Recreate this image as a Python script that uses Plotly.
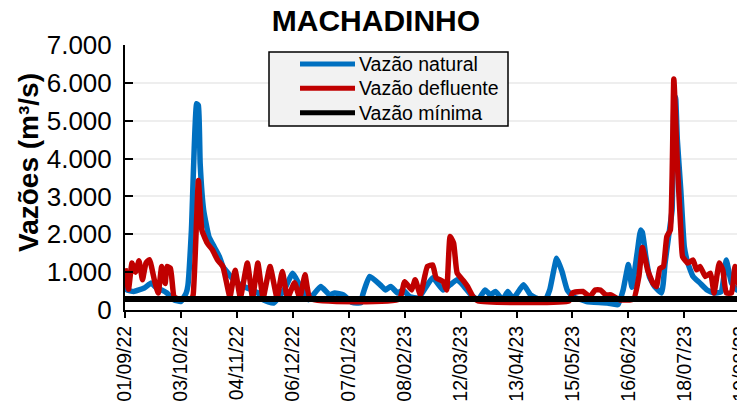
import plotly.graph_objects as go

# vazão natural (m³/s)
datas_natural = [
    "2022-09-01", "2022-09-02", "2022-09-06", "2022-09-12", "2022-09-16", "2022-09-19",
    "2022-09-22", "2022-09-25", "2022-09-29", "2022-10-03", "2022-10-06", "2022-10-07",
    "2022-10-09", "2022-10-12", "2022-10-13", "2022-10-14", "2022-10-16", "2022-10-19",
    "2022-10-22", "2022-10-25", "2022-10-27", "2022-10-30", "2022-11-02", "2022-11-08",
    "2022-11-16", "2022-11-19", "2022-11-25", "2022-12-01", "2022-12-06", "2022-12-10",
    "2022-12-12", "2022-12-15", "2022-12-22", "2022-12-27", "2022-12-30", "2023-01-04",
    "2023-01-09", "2023-01-14", "2023-01-15", "2023-01-19", "2023-01-25", "2023-01-28",
    "2023-01-31", "2023-02-04", "2023-02-07", "2023-02-11", "2023-02-16", "2023-02-24",
    "2023-03-02", "2023-03-06", "2023-03-10", "2023-03-14", "2023-03-18", "2023-03-22",
    "2023-03-26", "2023-03-29", "2023-04-01", "2023-04-05", "2023-04-08", "2023-04-11",
    "2023-04-17", "2023-04-21", "2023-04-24", "2023-04-29", "2023-05-02", "2023-05-06",
    "2023-05-09", "2023-05-12", "2023-05-15", "2023-05-20", "2023-05-23", "2023-06-04",
    "2023-06-10", "2023-06-13", "2023-06-16", "2023-06-18", "2023-06-21", "2023-06-23",
    "2023-06-24", "2023-06-26", "2023-06-28", "2023-07-01", "2023-07-05", "2023-07-07",
    "2023-07-09", "2023-07-11", "2023-07-12", "2023-07-13", "2023-07-14", "2023-07-16",
    "2023-07-18", "2023-07-20", "2023-07-23", "2023-07-27", "2023-07-31", "2023-08-04",
    "2023-08-08", "2023-08-11", "2023-08-14", "2023-08-17", "2023-08-19",
]
vazao_natural = [
    650, 530, 490, 580, 710, 580,
    530, 450, 270, 225, 450, 650,
    2110, 5450, 5400, 3870, 2640, 1940,
    1670, 1410, 1150, 970, 800, 620,
    450, 270, 185, 530, 970, 650,
    530, 270, 620, 400, 450, 400,
    200, 190, 400, 885, 665, 530,
    620, 450, 530, 350, 320, 850,
    530, 665, 800, 620, 400, 270,
    530, 400, 490, 270, 490, 300,
    665, 400, 320, 225, 530, 1370,
    1020, 530, 360, 270, 225, 185,
    140, 530, 1200, 600, 1500, 2110,
    2050, 1410, 885, 620, 450, 1240,
    1940, 2640, 5300, 5620, 4500, 3160,
    1670, 1240, 885, 710, 530, 450,
    480, 1320, 710, 530, 600,
]

# vazão defluente (m³/s)
datas_defluente = [
    "2022-09-01", "2022-09-03", "2022-09-05", "2022-09-07", "2022-09-09", "2022-09-11",
    "2022-09-13", "2022-09-15", "2022-09-18", "2022-09-20", "2022-09-22", "2022-09-24",
    "2022-09-25", "2022-09-27", "2022-09-29", "2022-10-01", "2022-10-09", "2022-10-10",
    "2022-10-13", "2022-10-15", "2022-10-18", "2022-10-21", "2022-10-24", "2022-10-27",
    "2022-10-31", "2022-11-03", "2022-11-06", "2022-11-10", "2022-11-13", "2022-11-16",
    "2022-11-19", "2022-11-23", "2022-11-27", "2022-11-30", "2022-12-03", "2022-12-07",
    "2022-12-10", "2022-12-13", "2022-12-16", "2023-02-05", "2023-02-08", "2023-02-12",
    "2023-02-14", "2023-02-17", "2023-02-21", "2023-02-24", "2023-02-26", "2023-03-02",
    "2023-03-04", "2023-03-06", "2023-03-08", "2023-03-10", "2023-03-14", "2023-03-16",
    "2023-03-19", "2023-03-22", "2023-05-13", "2023-05-15", "2023-05-21", "2023-05-25",
    "2023-05-28", "2023-05-31", "2023-06-03", "2023-06-06", "2023-06-11", "2023-06-19",
    "2023-06-22", "2023-06-24", "2023-06-27", "2023-06-30", "2023-07-02", "2023-07-04",
    "2023-07-06", "2023-07-08", "2023-07-10", "2023-07-12", "2023-07-14", "2023-07-16",
    "2023-07-17", "2023-07-20", "2023-07-23", "2023-07-25", "2023-07-27", "2023-07-30",
    "2023-08-02", "2023-08-04", "2023-08-07", "2023-08-09", "2023-08-11", "2023-08-14",
    "2023-08-16", "2023-08-18", "2023-08-19",
]
vazao_defluente = [
    1100, 550, 1240, 1000, 1300, 800,
    1240, 1330, 750, 450, 1150, 700,
    1150, 1100, 360, 300, 300, 400,
    3420, 2110, 1770, 1590, 1320, 1150,
    350, 1050, 330, 1240, 320, 1240,
    320, 1150, 320, 1020, 320, 720,
    320, 930, 300, 290, 750, 530,
    800, 400, 1150, 1190, 850, 750,
    530, 1940, 1770, 980, 750, 620,
    360, 240, 240, 450, 490, 350,
    530, 530, 400, 400, 270, 290,
    885, 1650, 1060, 710, 620, 1100,
    1150, 1940, 2110, 6100, 3870, 2110,
    1410, 1240, 1320, 1060, 1150, 885,
    970, 450, 1240, 1060, 450, 450,
    1150, 710, 500,
]

# vazão mínima (m³/s)
datas_minima = ["2022-09-01", "2023-08-20"]
vazao_minima = [290, 290]

nomes = ["Vazão natural", "Vazão defluente", "Vazão mínima"]
cores = ["#0070C0", "#C00000", "#000000"]

# the page body has an 8px margin, so the figure is drawn 8px in and 8px down
OFF = 8
W, H = 745 - OFF, 411 - OFF
L, R, T, B = 125 - OFF, 3, 45 - OFF, 101


def px_x(px):
    # page pixel -> paper fraction
    return (px - OFF - L) / (W - L - R)


def px_y(py):
    return (H - B - (py - OFF)) / (H - T - B)


fig = go.Figure()

fig.add_trace(go.Scatter(x=datas_natural, y=vazao_natural, mode="lines", name=nomes[0],
                         line=dict(color=cores[0], width=5.5, shape="spline", smoothing=0.4)))
fig.add_trace(go.Scatter(x=datas_defluente, y=vazao_defluente, mode="lines", name=nomes[1],
                         line=dict(color=cores[1], width=5.5, shape="spline", smoothing=0.4)))
fig.add_trace(go.Scatter(x=datas_minima, y=vazao_minima, mode="lines", name=nomes[2],
                         line=dict(color=cores[2], width=6)))

# legenda desenhada à mão (caixa cinza com linhas longas, como no Excel)
fig.add_shape(type="rect", xref="paper", yref="paper",
              x0=px_x(269), x1=px_x(508), y0=px_y(126), y1=px_y(52),
              fillcolor="#F2F2F2", line=dict(color="black", width=1.5))
linhas_y = [64, 88.3, 112.7]
for nome, cor, ly in zip(nomes, cores, linhas_y):
    fig.add_shape(type="line", xref="paper", yref="paper",
                  x0=px_x(300), x1=px_x(355), y0=px_y(ly), y1=px_y(ly),
                  line=dict(color=cor, width=5))
    fig.add_annotation(x=px_x(357), y=px_y(ly), xref="paper", yref="paper",
                       text=nome, showarrow=False, xanchor="left", yanchor="middle",
                       font=dict(size=19.5, color="black"))

# título do eixo y
fig.add_annotation(x=px_x(28), y=px_y(163), xref="paper", yref="paper",
                   text="<b>Vazões (m³/s)</b>", showarrow=False, textangle=-90,
                   xanchor="center", yanchor="middle", font=dict(size=28, color="black"))

fig.update_layout(
    template="none",
    width=W, height=H,
    margin=dict(l=L, r=R, t=T, b=B),
    plot_bgcolor="white", paper_bgcolor="white",
    separators=",.",
    showlegend=False,
    font=dict(family="Liberation Sans", color="black"),
    title=dict(text="<b>MACHADINHO</b>", x=px_x(433), xanchor="center",
               y=1 - (20 - OFF) / H, yanchor="middle", yref="container",
               font=dict(size=30, color="black")),
    xaxis=dict(type="date", range=["2022-09-01", "2023-08-20"],
               tick0="2022-09-01", dtick=32 * 86400000, tickformat="%d/%m/%y",
               tickangle=-90, ticks="outside", ticklen=6, tickwidth=2, tickcolor="black",
               showline=True, linecolor="black", linewidth=2, showgrid=False,
               zeroline=False, automargin=False, ticklabeloverflow="allow",
               tickfont=dict(size=19.5)),
    yaxis=dict(range=[0, 7000], dtick=1000, tickformat=",", ticks="inside", ticklen=8,
               tickwidth=2, tickcolor="black", showline=True, linecolor="black",
               linewidth=2, showgrid=True, gridcolor="#EEEEEE", gridwidth=2,
               zeroline=False, automargin=False, ticklabelstandoff=6,
               tickfont=dict(size=26)),
)

fig.write_html("out.html")
